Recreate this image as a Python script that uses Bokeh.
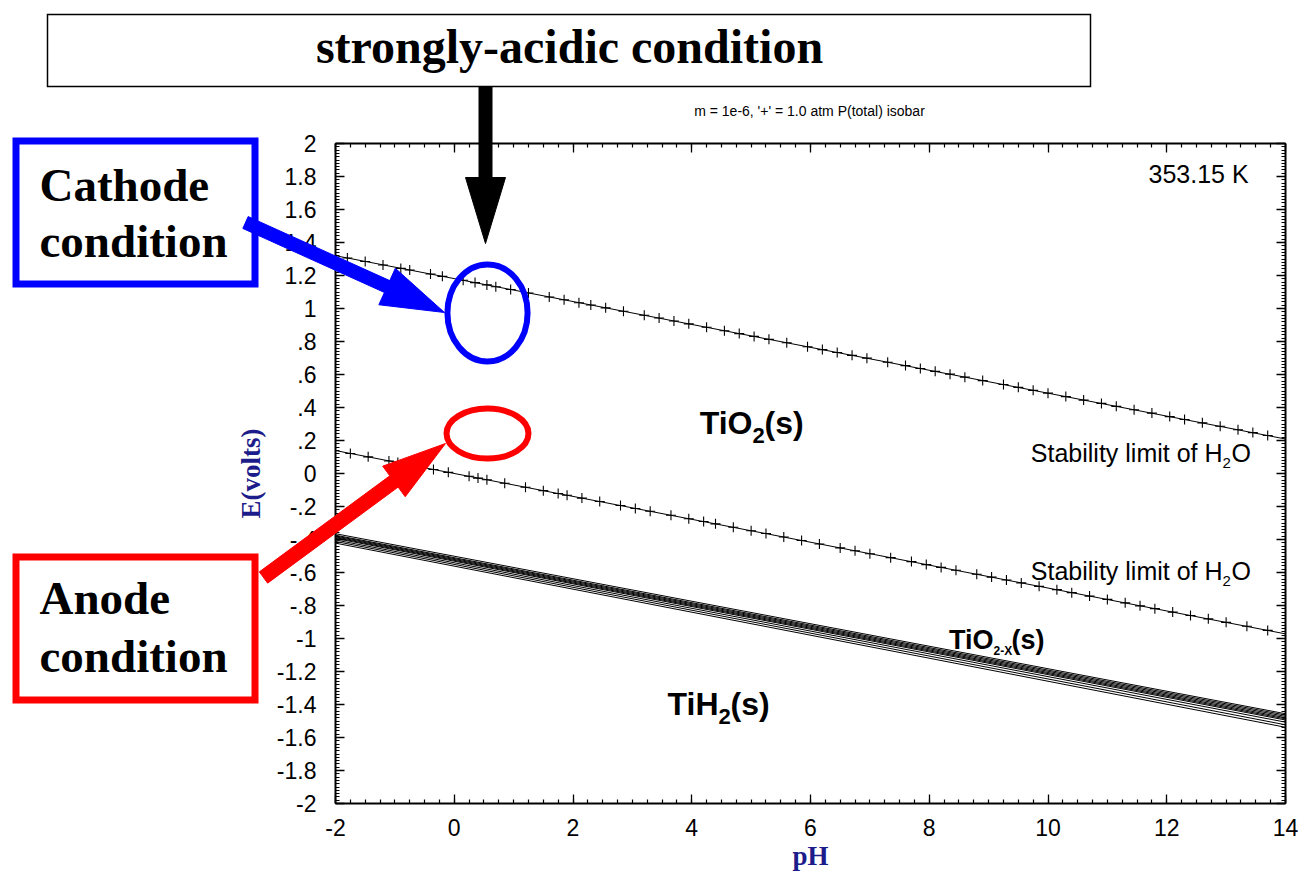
import math
from bokeh.plotting import figure
from bokeh.models import (Range1d, LinearAxis, SingleIntervalTicker, CustomJSTickFormatter,
                          Label, PolyAnnotation)
from bokeh.embed import file_html
from bokeh.resources import INLINE

# ---------------- data ----------------
line_ph = [-2, 14]
upper_line_E = [1.320, 0.209]          # upper stability limit of H2O
lower_line_E = [0.139, -0.972]         # lower stability limit of H2O

upper_marker_ph = [-1.8, -1.5, -1.2, -0.9, -0.75, -0.4, -0.2, 0.15, 0.35, 0.55, 0.7, 0.95,
                   1.25, 1.6, 1.85, 2.1, 2.3, 2.55, 2.85, 3.2, 3.45, 3.7, 3.95, 4.25, 4.55,
                   4.8, 5.05, 5.3, 5.6, 5.95, 6.2, 6.45, 6.7, 6.95, 7.3, 7.6, 7.85, 8.1, 8.35,
                   8.6, 8.9, 9.25, 9.5, 9.75, 10.0, 10.3, 10.6, 10.9, 11.15, 11.45, 11.75,
                   12.05, 12.3, 12.6, 12.9, 13.2, 13.45, 13.7]
upper_marker_E = [1.306, 1.285, 1.264, 1.243, 1.233, 1.209, 1.195, 1.171, 1.157, 1.143, 1.132,
                  1.115, 1.094, 1.070, 1.053, 1.035, 1.021, 1.004, 0.983, 0.959, 0.942, 0.924,
                  0.907, 0.886, 0.865, 0.848, 0.831, 0.813, 0.792, 0.768, 0.751, 0.733, 0.716,
                  0.699, 0.674, 0.654, 0.636, 0.619, 0.602, 0.584, 0.563, 0.539, 0.522, 0.504,
                  0.487, 0.466, 0.445, 0.425, 0.407, 0.386, 0.366, 0.345, 0.327, 0.307, 0.286,
                  0.265, 0.248, 0.230]

lower_marker_ph = [-1.75, -1.45, -1.1, -0.95, -0.6, -0.35, -0.1, 0.25, 0.4, 0.55, 0.85, 1.2,
                   1.5, 1.75, 1.9, 2.15, 2.45, 2.8, 3.05, 3.3, 3.65, 3.95, 4.2, 4.4, 4.7, 5.0,
                   5.25, 5.55, 5.85, 6.15, 6.5, 6.75, 7.0, 7.35, 7.7, 7.95, 8.2, 8.45, 8.8,
                   9.05, 9.3, 9.55, 9.85, 10.15, 10.4, 10.7, 11.0, 11.3, 11.55, 11.8, 12.1,
                   12.4, 12.7, 13.0, 13.35, 13.7]
lower_marker_E = [0.121, 0.101, 0.076, 0.066, 0.042, 0.024, 0.007, -0.017, -0.028, -0.038,
                  -0.059, -0.083, -0.104, -0.121, -0.132, -0.149, -0.170, -0.194, -0.212,
                  -0.229, -0.253, -0.274, -0.291, -0.305, -0.326, -0.347, -0.364, -0.385,
                  -0.406, -0.427, -0.451, -0.468, -0.486, -0.510, -0.534, -0.552, -0.569,
                  -0.586, -0.611, -0.628, -0.645, -0.663, -0.684, -0.704, -0.722, -0.743,
                  -0.763, -0.784, -0.802, -0.819, -0.840, -0.861, -0.881, -0.902, -0.926,
                  -0.951]

# TiO2-x / TiH2 boundary band (several close lines), E at pH -2 and at pH 14
band_E_start = [-0.365, -0.374, -0.379, -0.384, -0.389, -0.394, -0.403, -0.412, -0.422]
band_E_end = [-1.456, -1.464, -1.472, -1.480, -1.487, -1.494, -1.507, -1.523, -1.538]

# highlighted regions (cathode, anode)
ellipse_ph = [0.56, 0.56]
ellipse_E = [0.973, 0.242]
ellipse_ph_span = [1.35, 1.38]
ellipse_E_span = [0.588, 0.303]
ellipse_colors = ["#0000ff", "#ff0000"]

ph_bounds = (-2, 14)
E_bounds = (-2, 2)
x_tick_interval = 2
y_tick_interval = 0.2

# ---------------- layout: the frame covers the whole canvas ----------------
W, H = 1304, 873
PLOT_L, PLOT_R, PLOT_T, PLOT_B = 335, 1285, 143, 803   # pixel box of the pH/E axes
ppx = (PLOT_R - PLOT_L) / (ph_bounds[1] - ph_bounds[0])
ppy = (PLOT_B - PLOT_T) / (E_bounds[1] - E_bounds[0])
x_range = Range1d(ph_bounds[0] - PLOT_L / ppx, ph_bounds[1] + (W - PLOT_R) / ppx)
y_range = Range1d(E_bounds[0] - (H - PLOT_B) / ppy, E_bounds[1] + PLOT_T / ppy)

p = figure(width=W, height=H, x_range=x_range, y_range=y_range,
           output_backend="svg", toolbar_location=None,
           min_border_left=0, min_border_right=0, min_border_top=0, min_border_bottom=0,
           background_fill_color="white", border_fill_color="white", outline_line_color=None)
p.grid.visible = False

x_fmt = CustomJSTickFormatter(code="return tick.toFixed(0);")
y_fmt = CustomJSTickFormatter(code="""
let s = (Math.round(tick*10)/10).toString();
if (s.startsWith("0.")) s = s.slice(1);
else if (s.startsWith("-0.")) s = "-" + s.slice(2);
if (s === "-0") s = "0";
return s;""")
blank_fmt = CustomJSTickFormatter(code="return '';")


def style_axis(ax, is_x, labels, loc):
    if is_x:
        ax.ticker = SingleIntervalTicker(interval=x_tick_interval, num_minor_ticks=8)
        ax.bounds = ph_bounds
    else:
        ax.ticker = SingleIntervalTicker(interval=y_tick_interval, num_minor_ticks=10)
        ax.bounds = E_bounds
    ax.fixed_location = loc
    ax.axis_line_width = 2
    ax.axis_line_color = "black"
    ax.major_tick_in = 9
    ax.major_tick_out = 0
    ax.minor_tick_in = 4
    ax.minor_tick_out = 0
    ax.major_tick_line_width = 1.3
    ax.minor_tick_line_width = 1.2
    ax.major_tick_line_color = "black"
    ax.minor_tick_line_color = "black"
    if labels:
        ax.formatter = x_fmt if is_x else y_fmt
        ax.major_label_text_font = "Liberation Sans"
        ax.major_label_text_font_size = "23px"
        ax.major_label_text_color = "black"
        ax.major_label_standoff = 15 if is_x else 19
    else:
        ax.formatter = blank_fmt
        ax.major_label_standoff = 0
        ax.major_label_text_font_size = "1px"


xb = p.xaxis[0]
yl = p.yaxis[0]
style_axis(xb, True, True, E_bounds[0])
style_axis(yl, False, True, ph_bounds[0])
xb.axis_label = "pH"
yl.axis_label = "E(volts)"
for ax, st in ((xb, 2), (yl, 8)):
    ax.axis_label_text_font = "Liberation Serif"
    ax.axis_label_text_font_style = "bold"
    ax.axis_label_text_font_size = "27px"
    ax.axis_label_text_color = "#1c1c8a"
    ax.axis_label_standoff = st

xt = LinearAxis()
style_axis(xt, True, False, E_bounds[1])
p.add_layout(xt, "above")
yr = LinearAxis()
style_axis(yr, False, False, ph_bounds[1])
p.add_layout(yr, "right")

# ---------------- data marks ----------------
p.line(line_ph, upper_line_E, line_color="black", line_width=1)
p.line(line_ph, lower_line_E, line_color="black", line_width=1)
p.scatter(upper_marker_ph, upper_marker_E, marker="cross", size=10, line_color="black", line_width=1.1)
p.scatter(lower_marker_ph, lower_marker_E, marker="cross", size=10, line_color="black", line_width=1.1)
p.multi_line([line_ph] * len(band_E_start),
             [[s, e] for s, e in zip(band_E_start, band_E_end)],
             line_color="black", line_width=1)
p.ellipse(x=ellipse_ph, y=ellipse_E, width=ellipse_ph_span, height=ellipse_E_span,
          fill_color=None, line_color=ellipse_colors, line_width=6)


# ---------------- annotations (screen positions; frame == canvas) ----------------
BASELINE_FIX = 0.37   # Bokeh places 'alphabetic' labels this fraction of an em lower


def sx(X):
    return X


def sy(Y):
    return H - Y


def text(X, Y, s, size, font="Liberation Sans", style="normal", align="left", color="black"):
    p.add_layout(Label(x=sx(X), y=sy(Y - BASELINE_FIX * size), x_units="screen", y_units="screen",
                       text=s, text_font=font, text_font_size=f"{size}px", text_font_style=style,
                       text_align=align, text_baseline="alphabetic", text_color=color))


def rect(X0, Y0, X1, Y1, color, width):
    p.add_layout(PolyAnnotation(xs=[sx(X0), sx(X1), sx(X1), sx(X0)],
                                ys=[sy(Y0), sy(Y0), sy(Y1), sy(Y1)],
                                xs_units="screen", ys_units="screen",
                                fill_color="white", fill_alpha=0,
                                line_color=color, line_alpha=1, line_width=width,
                                line_join="miter"))


def arrow(start, tip, shaft_w, head_len, head_w, color):
    (x0, y0), (x1, y1) = start, tip
    L = math.hypot(x1 - x0, y1 - y0)
    ux, uy = (x1 - x0) / L, (y1 - y0) / L
    nx, ny = -uy, ux
    bx, by = x1 - ux * head_len, y1 - uy * head_len
    hs, hh = shaft_w / 2, head_w / 2
    pts = [(x0 + nx * hs, y0 + ny * hs), (bx + nx * hs, by + ny * hs), (bx + nx * hh, by + ny * hh),
           (x1, y1), (bx - nx * hh, by - ny * hh), (bx - nx * hs, by - ny * hs),
           (x0 - nx * hs, y0 - ny * hs)]
    p.add_layout(PolyAnnotation(xs=[sx(x) for x, _ in pts], ys=[sy(y) for _, y in pts],
                                xs_units="screen", ys_units="screen",
                                fill_color=color, fill_alpha=1, line_color=color,
                                line_alpha=1, line_width=1))


# chart texts
text(809, 116, "m = 1e-6, '+' = 1.0 atm P(total) isobar", 14, align="center")
text(1148, 183, "353.15 K", 25)
# TiO2(s)
text(752, 434, "TiO", 32, style="bold", align="right")
text(752, 443, "2", 22, style="bold")
text(764, 434, "(s)", 32, style="bold")
# TiH2(s)
text(718, 715, "TiH", 32, style="bold", align="right")
text(718, 724, "2", 22, style="bold")
text(730, 715, "(s)", 32, style="bold")
# TiO2-X(s)
text(993, 649, "TiO", 27, style="bold", align="right")
text(993, 655, "2-X", 12, style="bold")
text(1011, 649, "(s)", 27, style="bold")
# Stability limit of H2O (two)
for base in (462, 580):
    text(1222, base, "Stability limit of H", 25, align="right")
    text(1222, base + 6, "2", 15)
    text(1231, base, "O", 25)

# callouts
rect(47, 14, 1090, 86, "black", 1.5)
text(569, 64, "strongly-acidic condition", 48, font="Liberation Serif", style="bold", align="center")
arrow((485, 86), (485, 243), 13, 66, 40, "black")

rect(15.5, 140.5, 254.5, 283.5, "#0000ff", 7)
text(39, 202, "Cathode", 47, font="Liberation Serif", style="bold")
text(39, 258, "condition", 47, font="Liberation Serif", style="bold")
arrow((245, 222), (444, 312), 13, 63, 40, "#0000ff")

rect(15.5, 556.5, 254.5, 699.5, "#ff0000", 7)
text(39, 615, "Anode", 47, font="Liberation Serif", style="bold")
text(39, 673, "condition", 47, font="Liberation Serif", style="bold")
arrow((263, 577), (445, 443), 14, 64, 38, "#ff0000")

open("out.html", "w").write(file_html(p, INLINE))
